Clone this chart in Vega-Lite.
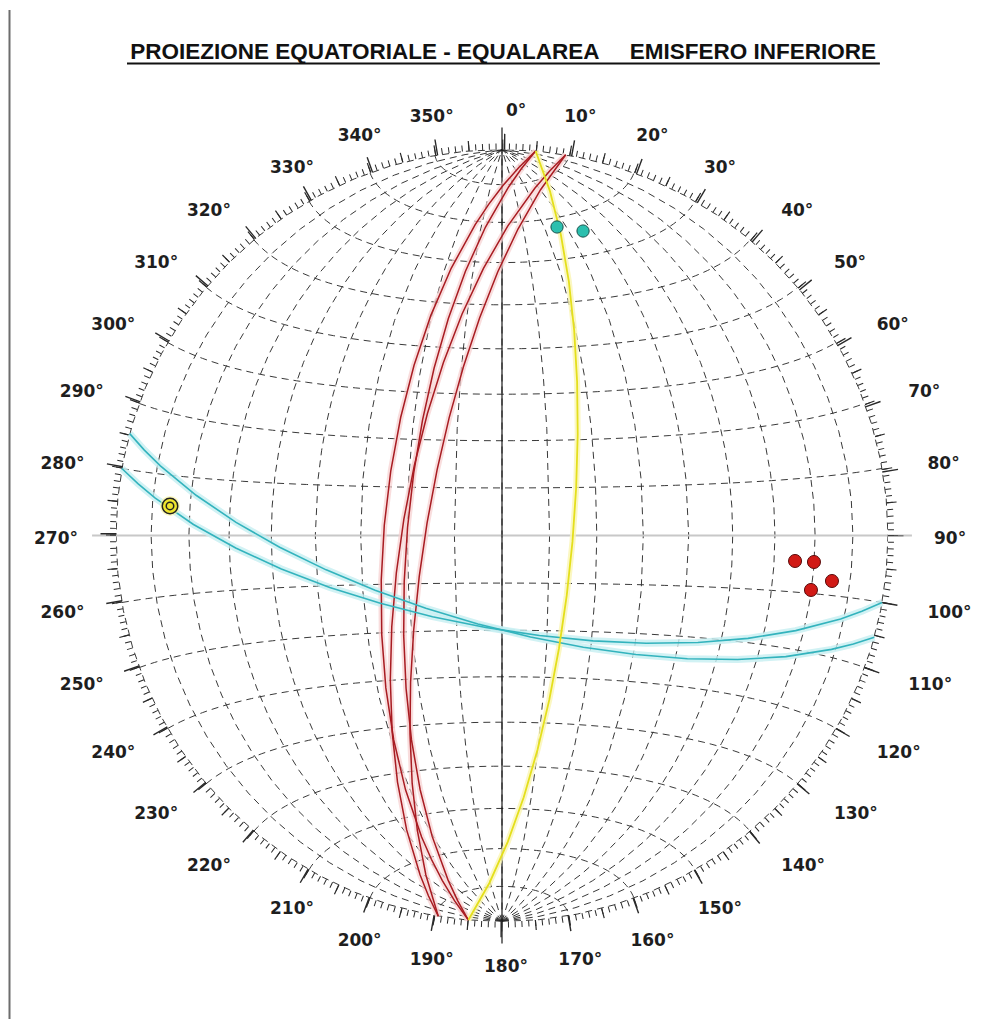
{
  "$schema": "https://vega.github.io/schema/vega-lite/v6.json",
  "width": 772,
  "height": 772,
  "autosize": "none",
  "padding": {"left": 116, "top": 149.5, "right": 101, "bottom": 97.5},
  "background": "#ffffff",
  "config": {"view": {"stroke": null}, "axis": {"disable": true}},
  "datasets": {
    "labels": [
      {"az": 0, "label": "0°"}, {"az": 10, "label": "10°"}, {"az": 20, "label": "20°"},
      {"az": 30, "label": "30°"}, {"az": 40, "label": "40°"}, {"az": 50, "label": "50°"},
      {"az": 60, "label": "60°"}, {"az": 70, "label": "70°"}, {"az": 80, "label": "80°"},
      {"az": 90, "label": "90°"}, {"az": 100, "label": "100°"}, {"az": 110, "label": "110°"},
      {"az": 120, "label": "120°"}, {"az": 130, "label": "130°"}, {"az": 140, "label": "140°"},
      {"az": 150, "label": "150°"}, {"az": 160, "label": "160°"}, {"az": 170, "label": "170°"},
      {"az": 180, "label": "180°"}, {"az": 190, "label": "190°"}, {"az": 200, "label": "200°"},
      {"az": 210, "label": "210°"}, {"az": 220, "label": "220°"}, {"az": 230, "label": "230°"},
      {"az": 240, "label": "240°"}, {"az": 250, "label": "250°"}, {"az": 260, "label": "260°"},
      {"az": 270, "label": "270°"}, {"az": 280, "label": "280°"}, {"az": 290, "label": "290°"},
      {"az": 300, "label": "300°"}, {"az": 310, "label": "310°"}, {"az": 320, "label": "320°"},
      {"az": 330, "label": "330°"}, {"az": 340, "label": "340°"}, {"az": 350, "label": "350°"}
    ],
    "redPlanes": [
      {"type": "Feature", "properties": {"id": "R1"}, "geometry": {"type": "LineString", "coordinates": [[90, 85], [-24.92, 2.11], [-90, -85]]}},
      {"type": "Feature", "properties": {"id": "R2"}, "geometry": {"type": "LineString", "coordinates": [[90, 85], [-19.93, 1.71], [-90, -85]]}},
      {"type": "Feature", "properties": {"id": "R3"}, "geometry": {"type": "LineString", "coordinates": [[90, 80.5], [-20.74, 3.39], [-90, -80.5]]}},
      {"type": "Feature", "properties": {"id": "R4"}, "geometry": {"type": "LineString", "coordinates": [[90, 80.5], [-15.79, 2.61], [-90, -80.5]]}}
    ],
    "cyanPlanes": [
      {"type": "Feature", "properties": {"id": "C1"}, "geometry": {"type": "LineString", "coordinates": [[-90, 15.3], [-5.29, -18.62], [90, -15.3]]}},
      {"type": "Feature", "properties": {"id": "C2"}, "geometry": {"type": "LineString", "coordinates": [[-90, 10.0], [-3.56, -19.39], [90, -10.0]]}}
    ],
    "yellowPlanes": [
      {"type": "Feature", "properties": {"id": "Y1"}, "geometry": {"type": "LineString", "coordinates": [[90, 85], [14.84, -1.28], [-90, -85]]}}
    ],
    "cyanPoints": [
      {"lon": 25.84, "lat": 67.75},
      {"lon": 36.0, "lat": 65.64}
    ],
    "redPoints": [
      {"lon": 65.13, "lat": -4.51},
      {"lon": 69.93, "lat": -4.56},
      {"lon": 75.07, "lat": -7.59},
      {"lon": 69.88, "lat": -9.40}
    ],
    "yellowPoints": [
      {"lon": -75.21, "lat": 4.92}
    ]
  },
  "layer": [
    {
      "data": {"graticule": {"step": [10, 10], "extent": [[-90, -90], [90.001, 90]]}},
      "projection": {"type": "azimuthalEqualArea", "scale": 272.94, "translate": [386, 386], "rotate": [0, 0, 0]},
      "mark": {"type": "geoshape", "filled": false, "stroke": "#2e2e2e", "strokeWidth": 0.95, "strokeDash": [7, 5]},
      "encoding": {}
    },
    {
      "data": {"values": [{}]},
      "mark": {"type": "rule", "stroke": "#c8c8c8", "strokeWidth": 2},
      "encoding": {
        "x": {"datum": -1.062, "type": "quantitative", "scale": {"domain": [-1, 1], "nice": false, "zero": false}, "axis": null},
        "x2": {"datum": 1.062},
        "y": {"datum": 0, "type": "quantitative", "scale": {"domain": [-1, 1], "nice": false, "zero": false}, "axis": null}
      }
    },
    {
      "data": {"values": [{}]},
      "mark": {"type": "rule", "stroke": "#1a1a1a", "strokeWidth": 1.2},
      "encoding": {
        "x": {"datum": 0, "type": "quantitative", "scale": {"domain": [-1, 1], "nice": false, "zero": false}, "axis": null},
        "y": {"datum": 1.057, "type": "quantitative", "scale": {"domain": [-1, 1], "nice": false, "zero": false}, "axis": null},
        "y2": {"datum": -1.057}
      }
    },
    {
      "data": {"values": [{}]},
      "mark": {"type": "point", "shape": "circle", "filled": false, "opacity": 1, "stroke": "#2a2a2a", "strokeWidth": 6, "size": 605284, "strokeDash": [1, 5.78931], "strokeDashOffset": 0.5},
      "encoding": {
        "x": {"datum": 0, "type": "quantitative", "scale": {"domain": [-1, 1], "nice": false, "zero": false}, "axis": null},
        "y": {"datum": 0, "type": "quantitative", "scale": {"domain": [-1, 1], "nice": false, "zero": false}, "axis": null}
      }
    },
    {
      "data": {"values": [{}]},
      "mark": {"type": "point", "shape": "circle", "filled": false, "opacity": 1, "stroke": "#2a2a2a", "strokeWidth": 10, "size": 611524, "strokeDash": [1.2, 32.9213], "strokeDashOffset": 0.6},
      "encoding": {
        "x": {"datum": 0, "type": "quantitative", "scale": {"domain": [-1, 1], "nice": false, "zero": false}, "axis": null},
        "y": {"datum": 0, "type": "quantitative", "scale": {"domain": [-1, 1], "nice": false, "zero": false}, "axis": null}
      }
    },
    {
      "data": {"values": [{}]},
      "mark": {"type": "point", "shape": "circle", "filled": false, "opacity": 1, "stroke": "#2a2a2a", "strokeWidth": 16, "size": 619369, "strokeDash": [1.4, 67.3659], "strokeDashOffset": 0.7},
      "encoding": {
        "x": {"datum": 0, "type": "quantitative", "scale": {"domain": [-1, 1], "nice": false, "zero": false}, "axis": null},
        "y": {"datum": 0, "type": "quantitative", "scale": {"domain": [-1, 1], "nice": false, "zero": false}, "axis": null}
      }
    },
    {
      "data": {"name": "labels"},
      "transform": [{"filter": "(datum.az >= 10 && datum.az <= 30) || (datum.az >= 150 && datum.az <= 210) || datum.az >= 330"}],
      "mark": {"type": "text", "font": "DejaVu Sans", "fontWeight": "bold", "fontSize": 17, "align": "center", "baseline": "middle", "color": "#1e1e1e"},
      "encoding": {
        "x": {"datum": 0.0104, "type": "quantitative", "scale": {"domain": [-1, 1], "nice": false, "zero": false}, "axis": null},
        "y": {"datum": -0.0078, "type": "quantitative", "scale": {"domain": [-1, 1], "nice": false, "zero": false}, "axis": null},
        "theta": {"field": "az", "type": "quantitative", "scale": {"domain": [0, 360], "range": [0, 6.283185307179586]}},
        "radius": {"value": 428},
        "text": {"field": "label", "type": "nominal"}
      }
    },
    {
      "data": {"name": "labels"},
      "transform": [{"filter": "datum.az == 0 || (datum.az >= 40 && datum.az <= 140)"}],
      "mark": {"type": "text", "font": "DejaVu Sans", "fontWeight": "bold", "fontSize": 17, "align": "left", "baseline": "middle", "color": "#1e1e1e"},
      "encoding": {
        "x": {"datum": 0.0104, "type": "quantitative", "scale": {"domain": [-1, 1], "nice": false, "zero": false}, "axis": null},
        "y": {"datum": -0.0078, "type": "quantitative", "scale": {"domain": [-1, 1], "nice": false, "zero": false}, "axis": null},
        "theta": {"field": "az", "type": "quantitative", "scale": {"domain": [0, 360], "range": [0, 6.283185307179586]}},
        "radius": {"value": 428},
        "text": {"field": "label", "type": "nominal"}
      }
    },
    {
      "data": {"name": "labels"},
      "transform": [{"filter": "datum.az >= 220 && datum.az <= 320"}],
      "mark": {"type": "text", "font": "DejaVu Sans", "fontWeight": "bold", "fontSize": 17, "align": "right", "baseline": "middle", "color": "#1e1e1e"},
      "encoding": {
        "x": {"datum": 0.0104, "type": "quantitative", "scale": {"domain": [-1, 1], "nice": false, "zero": false}, "axis": null},
        "y": {"datum": -0.0078, "type": "quantitative", "scale": {"domain": [-1, 1], "nice": false, "zero": false}, "axis": null},
        "theta": {"field": "az", "type": "quantitative", "scale": {"domain": [0, 360], "range": [0, 6.283185307179586]}},
        "radius": {"value": 428},
        "text": {"field": "label", "type": "nominal"}
      }
    },
    {
      "data": {"name": "redPlanes"},
      "projection": {"type": "azimuthalEqualArea", "scale": 272.94, "translate": [386, 386], "rotate": [0, 0, 0]},
      "mark": {"type": "geoshape", "filled": false, "stroke": "#f7d0d0", "strokeWidth": 6, "opacity": 0.7},
      "encoding": {}
    },
    {
      "data": {"name": "cyanPlanes"},
      "projection": {"type": "azimuthalEqualArea", "scale": 272.94, "translate": [386, 386], "rotate": [0, 0, 0]},
      "mark": {"type": "geoshape", "filled": false, "stroke": "#c6eff2", "strokeWidth": 7, "opacity": 0.8},
      "encoding": {}
    },
    {
      "data": {"name": "yellowPlanes"},
      "projection": {"type": "azimuthalEqualArea", "scale": 272.94, "translate": [386, 386], "rotate": [0, 0, 0]},
      "mark": {"type": "geoshape", "filled": false, "stroke": "#fbf6b4", "strokeWidth": 6, "opacity": 0.8},
      "encoding": {}
    },
    {
      "data": {"name": "redPlanes"},
      "projection": {"type": "azimuthalEqualArea", "scale": 272.94, "translate": [386, 386], "rotate": [0, 0, 0]},
      "mark": {"type": "geoshape", "filled": false, "stroke": "#a81c22", "strokeWidth": 1.5},
      "encoding": {}
    },
    {
      "data": {"name": "cyanPlanes"},
      "projection": {"type": "azimuthalEqualArea", "scale": 272.94, "translate": [386, 386], "rotate": [0, 0, 0]},
      "mark": {"type": "geoshape", "filled": false, "stroke": "#33b3bd", "strokeWidth": 1.6},
      "encoding": {}
    },
    {
      "data": {"name": "yellowPlanes"},
      "projection": {"type": "azimuthalEqualArea", "scale": 272.94, "translate": [386, 386], "rotate": [0, 0, 0]},
      "mark": {"type": "geoshape", "filled": false, "stroke": "#e4df1c", "strokeWidth": 1.8},
      "encoding": {}
    },
    {
      "data": {"name": "cyanPoints"},
      "projection": {"type": "azimuthalEqualArea", "scale": 272.94, "translate": [386, 386], "rotate": [0, 0, 0]},
      "mark": {"type": "circle", "size": 150, "opacity": 1, "fill": "#2bbfae", "stroke": "#17524c", "strokeWidth": 1},
      "encoding": {
        "longitude": {"field": "lon", "type": "quantitative"},
        "latitude": {"field": "lat", "type": "quantitative"}
      }
    },
    {
      "data": {"name": "redPoints"},
      "projection": {"type": "azimuthalEqualArea", "scale": 272.94, "translate": [386, 386], "rotate": [0, 0, 0]},
      "mark": {"type": "circle", "size": 170, "opacity": 1, "fill": "#d11a16", "stroke": "#5a0b0b", "strokeWidth": 1},
      "encoding": {
        "longitude": {"field": "lon", "type": "quantitative"},
        "latitude": {"field": "lat", "type": "quantitative"}
      }
    },
    {
      "data": {"name": "yellowPoints"},
      "projection": {"type": "azimuthalEqualArea", "scale": 272.94, "translate": [386, 386], "rotate": [0, 0, 0]},
      "mark": {"type": "circle", "size": 400, "opacity": 0.6, "fill": "#f8f39a"},
      "encoding": {
        "longitude": {"field": "lon", "type": "quantitative"},
        "latitude": {"field": "lat", "type": "quantitative"}
      }
    },
    {
      "data": {"name": "yellowPoints"},
      "projection": {"type": "azimuthalEqualArea", "scale": 272.94, "translate": [386, 386], "rotate": [0, 0, 0]},
      "mark": {"type": "circle", "size": 240, "opacity": 1, "fill": "#efe52e", "stroke": "#222222", "strokeWidth": 1.5},
      "encoding": {
        "longitude": {"field": "lon", "type": "quantitative"},
        "latitude": {"field": "lat", "type": "quantitative"}
      }
    },
    {
      "data": {"name": "yellowPoints"},
      "projection": {"type": "azimuthalEqualArea", "scale": 272.94, "translate": [386, 386], "rotate": [0, 0, 0]},
      "mark": {"type": "circle", "size": 56, "opacity": 1, "fill": "#efe52e", "stroke": "#222222", "strokeWidth": 1.5},
      "encoding": {
        "longitude": {"field": "lon", "type": "quantitative"},
        "latitude": {"field": "lat", "type": "quantitative"}
      }
    },
    {
      "data": {"values": [{}]},
      "mark": {"type": "text", "text": "PROIEZIONE EQUATORIALE - EQUALAREA \u00a0\u00a0\u00a0\u00a0EMISFERO INFERIORE", "font": "Liberation Sans", "fontWeight": "bold", "fontSize": 22.5, "align": "center", "baseline": "alphabetic", "color": "#111111"},
      "encoding": {
        "x": {"datum": 0.003, "type": "quantitative", "scale": {"domain": [-1, 1], "nice": false, "zero": false}, "axis": null},
        "y": {"datum": 1.2345, "type": "quantitative", "scale": {"domain": [-1, 1], "nice": false, "zero": false}, "axis": null}
      }
    },
    {
      "data": {"values": [{}]},
      "mark": {"type": "rule", "stroke": "#111111", "strokeWidth": 2.2},
      "encoding": {
        "x": {"datum": -0.9715, "type": "quantitative", "scale": {"domain": [-1, 1], "nice": false, "zero": false}, "axis": null},
        "x2": {"datum": 0.979},
        "y": {"datum": 1.2228, "type": "quantitative", "scale": {"domain": [-1, 1], "nice": false, "zero": false}, "axis": null}
      }
    },
    {
      "data": {"values": [{}]},
      "mark": {"type": "rule", "stroke": "#6d6d6d", "strokeWidth": 2},
      "encoding": {
        "x": {"datum": -1.2759, "type": "quantitative", "scale": {"domain": [-1, 1], "nice": false, "zero": false}, "axis": null},
        "y": {"datum": 1.3614, "type": "quantitative", "scale": {"domain": [-1, 1], "nice": false, "zero": false}, "axis": null},
        "y2": {"datum": -1.2526}
      }
    }
  ]
}
